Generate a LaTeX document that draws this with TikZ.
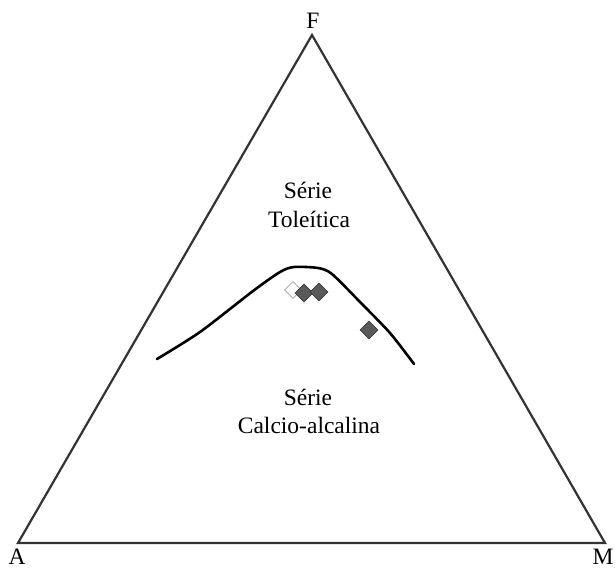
\documentclass[tikz,border=0pt]{standalone}
\usepackage{fontspec}
\setmainfont{Liberation Serif}
\usetikzlibrary{shapes.geometric}
\definecolor{dgray}{HTML}{5A5A5A}
\definecolor{dline}{HTML}{3C3C3C}
\definecolor{lgray}{HTML}{A0A0A0}
\begin{document}
\begin{tikzpicture}[x=1pt,y=-1pt,
  lbl/.style={font=\fontsize{23.5}{28}\selectfont, inner sep=0pt, align=center},
  dfill/.style={diamond, fill=dgray, draw=dline, line width=0.6pt, minimum width=18pt, minimum height=18pt, inner sep=0pt},
  dopen/.style={diamond, fill=white, draw=lgray, line width=0.8pt, minimum width=17pt, minimum height=17pt, inner sep=0pt}]
\useasboundingbox (0,0) rectangle (616,568);
\coordinate (A) at (18,543);
\coordinate (M) at (605,543);
\coordinate (F) at (312,35);
\draw[line width=2.2pt, color=black!80, line join=miter] (A) -- (M) -- (F) -- cycle;
\node[lbl, anchor=base] (lF) at (313,28) {F};
\node[lbl, anchor=base] (lA) at (17,564) {A};
\node[lbl, anchor=base] (lM) at (603,564) {M};
\node[lbl, anchor=base] (t1) at (308,198) {Série};
\node[lbl, anchor=base] (t2) at (309,227) {Toleítica};
\node[lbl, anchor=base] (c1) at (308,405) {Série};
\node[lbl, anchor=base] (c2) at (309,433) {Calcio-alcalina};
\draw[line width=2.6pt, line cap=round] plot[smooth, tension=0.45] coordinates {(157,359) (200,332) (253,291) (280,272) (294,267) (318,268) (332,274) (360,302) (390,333) (414,364)};
\node[dopen] (d0) at (293,290) {};
\node[dfill] (d1) at (304,293) {};
\node[dfill] (d2) at (319,292) {};
\node[dfill] (d3) at (369,330) {};
\end{tikzpicture}
\end{document}
